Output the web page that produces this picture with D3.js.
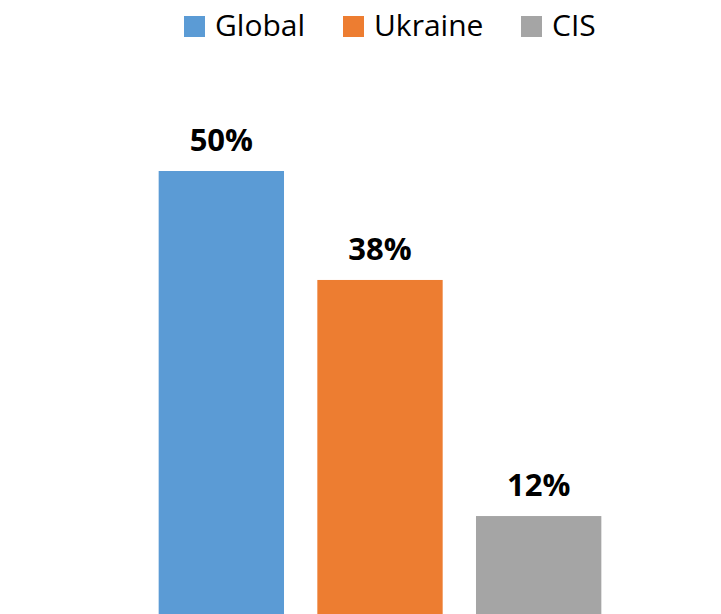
<!DOCTYPE html>
<html>
<head>
<meta charset="utf-8">
<script src="https://cdn.jsdelivr.net/npm/d3@7"></script>
<style>
  body { margin: 0; background: #fff; }
  svg { display: block; }
  text { font-family: "Open Sans", "Noto Sans", sans-serif; }
</style>
</head>
<body>
<svg id="chart" width="721" height="614"></svg>
<script>
// data
var categories = ["Global", "Ukraine", "CIS"];
var values = [50, 38, 12];
var labels = ["50%", "38%", "12%"];
var colors = ["#5b9bd5", "#ed7d31", "#a5a5a5"];

var svg = d3.select("#chart"),
    width = 721,
    height = 614;

var x = d3.scaleBand()
    .domain(categories)
    .range([142, 618])
    .paddingInner(0.21)
    .paddingOuter(0.105);

// baseline sits just below the visible area
var y = d3.scaleLinear()
    .domain([0, 50])
    .range([625, 171]);

var color = d3.scaleOrdinal().domain(categories).range(colors);

// bars
svg.append("g")
    .selectAll("rect")
    .data(categories)
    .enter().append("rect")
    .attr("x", function(d) { return x(d); })
    .attr("width", x.bandwidth())
    .attr("y", function(d, i) { return y(values[i]); })
    .attr("height", function(d, i) { return y(0) - y(values[i]); })
    .attr("fill", function(d) { return color(d); });

// value labels
svg.append("g")
    .selectAll("text")
    .data(categories)
    .enter().append("text")
    .attr("x", function(d) { return x(d) + x.bandwidth() / 2; })
    .attr("y", function(d, i) { return y(values[i]) - 20; })
    .attr("text-anchor", "middle")
    .attr("font-size", 31)
    .attr("font-weight", "bold")
    .attr("fill", "#000")
    .text(function(d, i) { return labels[i]; });

// legend
var legendX = [184, 343, 521];
var legend = svg.append("g")
    .selectAll("g")
    .data(categories)
    .enter().append("g")
    .attr("transform", function(d, i) { return "translate(" + legendX[i] + ",0)"; });

legend.append("rect")
    .attr("x", 0)
    .attr("y", 16)
    .attr("width", 21)
    .attr("height", 21)
    .attr("fill", function(d) { return color(d); });

legend.append("text")
    .attr("x", 31)
    .attr("y", 36)
    .attr("font-size", 30)
    .attr("fill", "#000")
    .text(function(d) { return d; });
</script>
</body>
</html>
